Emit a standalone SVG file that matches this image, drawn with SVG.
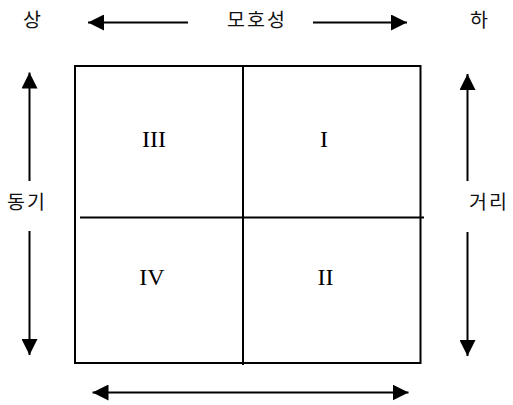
<svg xmlns="http://www.w3.org/2000/svg" width="513" height="405" viewBox="0 0 513 405">
<defs>
<marker id="ah" viewBox="0 0 16 16" refX="16" refY="8" markerWidth="16" markerHeight="16" markerUnits="userSpaceOnUse" orient="auto-start-reverse">
<path d="M0,0 L16,8 L0,16 Z" fill="#000"/>
</marker>
<style>
.ko{font-family:"Noto Sans CJK KR","Noto Sans",sans-serif;font-size:19.5px;fill:#111;text-anchor:middle;dominant-baseline:central;letter-spacing:2px}
.rn{font-family:"Liberation Serif",serif;font-size:24px;fill:#000;text-anchor:middle}
.ln{stroke:#000;stroke-width:2;fill:none}
.ar{stroke:#000;stroke-width:2;fill:none;marker-end:url(#ah)}
</style>
</defs>
<rect width="513" height="405" fill="#fff"/>
<g id="grid">
<rect class="ln" x="75" y="66" width="345.5" height="297"/>
<line class="ln" x1="243" y1="66" x2="243" y2="365"/>
<line class="ln" x1="80" y1="217.5" x2="424" y2="217.5"/>
</g>
<g id="q3"><text class="rn" x="154" y="147">III</text></g>
<g id="q1"><text class="rn" x="324" y="147">I</text></g>
<g id="q4"><text class="rn" x="152" y="285">IV</text></g>
<g id="q2"><text class="rn" x="325.5" y="285">II</text></g>
<g id="labels">
<text class="ko" x="33" y="18">상</text>
<text class="ko" x="257" y="18">모호성</text>
<text class="ko" x="480" y="18">하</text>
<text class="ko" x="27" y="200">동기</text>
<text class="ko" x="489" y="200">거리</text>
</g>
<g id="connectors">
<line class="ar" x1="188" y1="22.5" x2="88" y2="22.5"/>
<line class="ar" x1="313" y1="22.5" x2="407" y2="22.5"/>
<line class="ar" x1="29.5" y1="181" x2="29.5" y2="72.5"/>
<line class="ar" x1="29.5" y1="231" x2="29.5" y2="355"/>
<line class="ar" x1="467.5" y1="181" x2="467.5" y2="74"/>
<line class="ar" x1="467.5" y1="232" x2="467.5" y2="356"/>
<line class="ar" x1="250" y1="392.5" x2="92.5" y2="392.5"/>
<line class="ar" x1="250" y1="392.5" x2="408.5" y2="392.5"/>
</g>
</svg>
